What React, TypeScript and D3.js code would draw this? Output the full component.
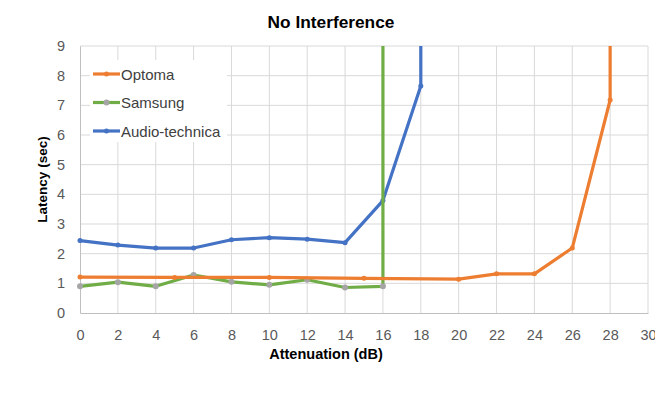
import { useEffect, useRef } from "react";
import * as d3 from "d3";

// Attenuation (dB) and latency (sec); the final point of each series is the
// timeout value that runs off the top of the chart.
const optomaX = [0, 5, 10, 15, 20, 22, 24, 26, 28, 28];
const optomaY = [1.21, 1.2, 1.2, 1.17, 1.14, 1.32, 1.32, 2.19, 7.18, 60];

const samsungX = [0, 2, 4, 6, 8, 10, 12, 14, 16, 16];
const samsungY = [0.9, 1.04, 0.9, 1.28, 1.05, 0.95, 1.12, 0.86, 0.9, 60];

const audioX = [0, 2, 4, 6, 8, 10, 12, 14, 16, 18, 18];
const audioY = [2.44, 2.29, 2.19, 2.19, 2.47, 2.54, 2.49, 2.37, 3.79, 7.65, 60];

const xTicks = d3.range(0, 31, 2);
const yTicks = d3.range(0, 10, 1);

const seriesNames = ["Optoma", "Samsung", "Audio-technica"];

export default function App() {
  const svgRef = useRef<SVGSVGElement | null>(null);

  useEffect(() => {
    const width = 663;
    const height = 396;
    const margin = { top: 46, right: 15, bottom: 83, left: 80 };
    const font = "Liberation Sans, Arial, sans-serif";

    const svg = d3.select(svgRef.current)
      .attr("width", width)
      .attr("height", height)
      .style("background", "#ffffff")
      .style("display", "block");

    svg.selectAll("*").remove();

    const x = d3.scaleLinear().domain([0, 30]).range([margin.left, width - margin.right]);
    const y = d3.scaleLinear().domain([0, 9]).range([height - margin.bottom, margin.top]);

    const series = [
      { name: seriesNames[0], xs: optomaX, ys: optomaY, color: "#ED7D31", marker: "#ED7D31", r: 2.5 },
      { name: seriesNames[1], xs: samsungX, ys: samsungY, color: "#70AD47", marker: "#A5A5A5", r: 3 },
      { name: seriesNames[2], xs: audioX, ys: audioY, color: "#4472C4", marker: "#4472C4", r: 2.5 },
    ];

    // gridlines
    svg.append("g")
      .selectAll("line.h")
      .data(yTicks.filter(d => d > 0))
      .join("line")
      .attr("x1", x(0)).attr("x2", x(30))
      .attr("y1", d => y(d)).attr("y2", d => y(d))
      .attr("stroke", "#D9D9D9").attr("stroke-width", 1);

    svg.append("g")
      .selectAll("line.v")
      .data(xTicks.filter(d => d > 0))
      .join("line")
      .attr("x1", d => x(d)).attr("x2", d => x(d))
      .attr("y1", y(0)).attr("y2", y(9))
      .attr("stroke", "#D9D9D9").attr("stroke-width", 1);

    // axes
    const xAxis = svg.append("g")
      .attr("transform", `translate(0, ${y(0)})`)
      .call(d3.axisBottom(x).tickValues(xTicks).tickSize(0).tickPadding(17));
    xAxis.select(".domain").attr("stroke", "#BFBFBF");

    const yAxis = svg.append("g")
      .attr("transform", `translate(${x(0)}, 0)`)
      .call(d3.axisLeft(y).tickValues(yTicks).tickSize(0).tickPadding(15));
    yAxis.select(".domain").attr("stroke", "#BFBFBF");

    svg.selectAll(".tick text")
      .attr("font-family", font)
      .attr("font-size", 14.5)
      .attr("fill", "#595959");

    // clip for lines running off the top
    svg.append("clipPath").attr("id", "plot-clip")
      .append("rect")
      .attr("x", x(0) - 5).attr("y", y(9))
      .attr("width", x(30) - x(0) + 10).attr("height", y(0) - y(9) + 5);

    const line = d3.line<[number, number]>()
      .x(d => x(d[0]))
      .y(d => y(d[1]));

    const plot = svg.append("g").attr("clip-path", "url(#plot-clip)");

    // draw in reverse so Optoma is on top
    [...series].reverse().forEach(s => {
      const pts: [number, number][] = s.xs.map((v, i) => [v, s.ys[i]]);
      plot.append("path")
        .datum(pts)
        .attr("fill", "none")
        .attr("stroke", s.color)
        .attr("stroke-width", 3.2)
        .attr("stroke-linejoin", "round")
        .attr("d", line);
      plot.append("g")
        .selectAll("circle")
        .data(pts.filter(p => p[1] <= 9))
        .join("circle")
        .attr("cx", d => x(d[0]))
        .attr("cy", d => y(d[1]))
        .attr("r", s.r)
        .attr("fill", s.marker);
    });

    // legend
    const legend = svg.append("g").attr("transform", "translate(90, 60)");
    legend.append("rect")
      .attr("x", 0).attr("y", 0)
      .attr("width", 137).attr("height", 82)
      .attr("fill", "#ffffff");
    series.forEach((s, i) => {
      const ly = 14 + i * 28.5;
      legend.append("line")
        .attr("x1", 3).attr("x2", 30)
        .attr("y1", ly).attr("y2", ly)
        .attr("stroke", s.color).attr("stroke-width", 3.2);
      legend.append("circle")
        .attr("cx", 16.5).attr("cy", ly).attr("r", s.r)
        .attr("fill", s.marker);
      legend.append("text")
        .attr("x", 31).attr("y", ly + 5.5)
        .attr("font-family", font)
        .attr("font-size", 15)
        .attr("fill", "#404040")
        .text(s.name);
    });

    // titles
    svg.append("text")
      .attr("x", 331).attr("y", 28)
      .attr("text-anchor", "middle")
      .attr("font-family", font)
      .attr("font-size", 17.3)
      .attr("font-weight", "bold")
      .attr("fill", "#000000")
      .text("No Interference");

    svg.append("text")
      .attr("x", 326).attr("y", 359)
      .attr("text-anchor", "middle")
      .attr("font-family", font)
      .attr("font-size", 14.5)
      .attr("font-weight", "bold")
      .attr("fill", "#000000")
      .text("Attenuation (dB)");

    svg.append("text")
      .attr("transform", `translate(47, ${y(4.5) + 0}) rotate(-90)`)
      .attr("text-anchor", "middle")
      .attr("font-family", font)
      .attr("font-size", 13.5)
      .attr("font-weight", "bold")
      .attr("fill", "#000000")
      .text("Latency (sec)");
  }, []);

  return (
    <div style={{ margin: -8 }}>
      <svg ref={svgRef}></svg>
    </div>
  );
}
